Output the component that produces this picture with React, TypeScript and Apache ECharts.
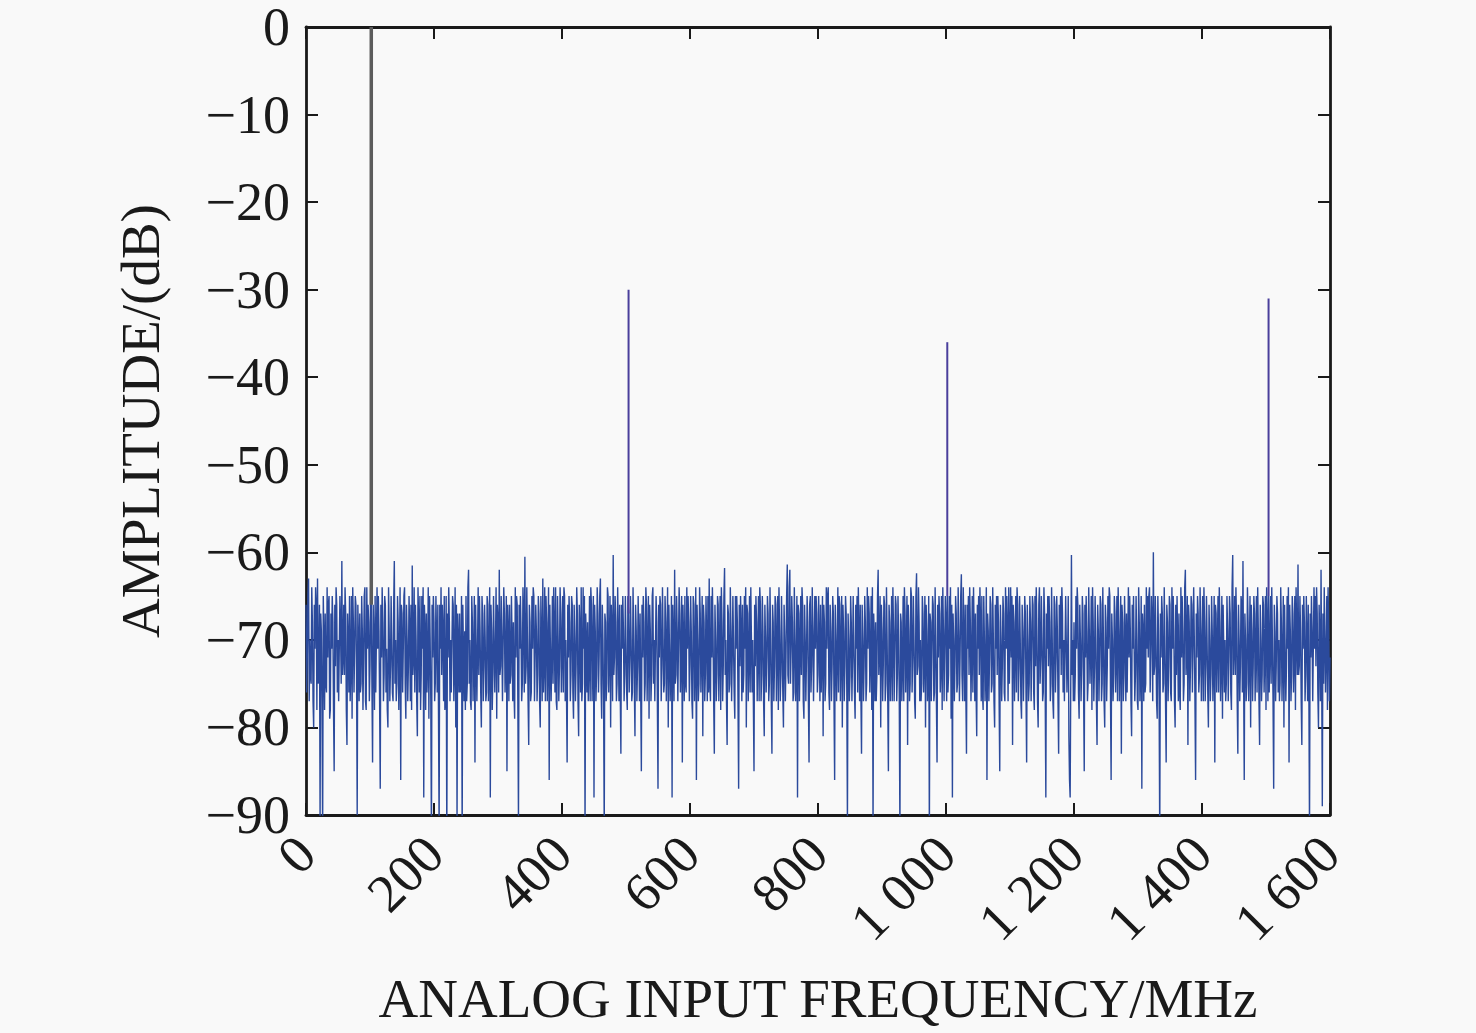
import { useEffect, useRef } from "react";
import * as echarts from "echarts";

// spectrum bins, one every 1 MHz from 0 to 1600 MHz (dB)
const FREQ_STEP = 1;
const noiseDb = [
  -66, -76, -72, -65, -63, -77, -70, -74, -75, -64, -68, -77, -80, -66, -71, -64, -66, -78, -63, -75, -74, -66, -91, -67, -69, -77, -93, -65, -70, -78, -67, -75, -76, -64, -72, -66, -65, -79, -78, -67,
  -71, -65, -68, -78, -85, -66, -73, -64, -66, -76, -70, -77, -77, -65, -69, -75, -61, -74, -72, -66, -74, -64, -67, -78, -82, -67, -70, -76, -65, -77, -73, -65, -79, -64, -68, -76, -71, -65, -66, -74,
  -90, -66, -70, -77, -67, -76, -75, -65, -69, -78, -72, -65, -64, -77, -78, -64, -71, -66, -68, -77, -73, -64, -66, -75, -84, -66, -70, -78, -65, -76, -76, -64, -71, -65, -69, -77, -87, -66, -72, -64,
  -68, -77, -74, -65, -66, -76, -71, -78, -80, -64, -69, -77, -73, -65, -65, -76, -77, -66, -61, -75, -70, -77, -75, -65, -68, -78, -72, -64, -86, -66, -67, -76, -71, -65, -64, -75, -79, -66, -70, -77,
  -73, -65, -69, -77, -66, -78, -61.5, -74, -72, -64, -76, -66, -70, -77, -81, -64, -68, -76, -65, -78, -74, -65, -71, -64, -88, -66, -69, -78, -67, -76, -73, -64, -79, -65, -70, -77, -93, -66, -72, -65,
  -68, -77, -75, -65, -70, -76, -66, -78, -92, -66, -71, -64, -74, -66, -69, -77, -65, -78, -77, -65, -94, -67, -72, -64, -68, -77, -70, -76, -76, -65, -66, -77, -73, -64, -80, -66, -91, -67, -70, -76,
  -67, -76, -74, -65, -93, -66, -71, -77, -69, -78, -65, -77, -75, -64, -62, -75, -70, -77, -78, -65, -68, -77, -72, -65, -84, -66, -66, -77, -71, -64, -74, -65, -69, -76, -80, -65, -67, -77, -73, -66,
  -70, -77, -76, -65, -66, -77, -72, -64, -88, -66, -69, -78, -74, -65, -65, -76, -71, -64, -79, -66, -68, -76, -62, -74, -73, -65, -70, -77, -77, -64, -67, -76, -72, -65, -85, -66, -69, -77, -66, -75,
  -74, -65, -70, -77, -68, -76, -79, -64, -72, -65, -66, -77, -91, -66, -71, -65, -69, -77, -75, -64, -67, -76, -60.5, -75, -73, -64, -70, -77, -82, -66, -68, -77, -76, -65, -71, -64, -65, -77, -72, -66,
  -69, -77, -74, -65, -67, -77, -80, -65, -70, -77, -63, -76, -73, -64, -77, -65, -68, -77, -71, -64, -86, -66, -66, -77, -72, -65, -75, -64, -69, -76, -64, -77, -78, -65, -70, -77, -73, -64, -67, -76,
  -71, -65, -76, -64, -65, -77, -70, -76, -84, -66, -72, -65, -68, -77, -74, -65, -66, -76, -79, -66, -70, -77, -73, -64, -67, -77, -81, -66, -69, -76, -64, -77, -75, -64, -71, -65, -92, -67, -70, -76,
  -68, -77, -73, -65, -77, -64, -66, -77, -71, -65, -88, -66, -69, -77, -74, -64, -67, -76, -72, -65, -63, -75, -79, -66, -70, -77, -92, -67, -68, -77, -75, -64, -65, -76, -71, -65, -80, -66, -69, -77,
  -60.3, -74, -72, -65, -68, -77, -75, -64, -70, -77, -66, -76, -83, -66, -71, -65, -69, -77, -74, -65, -65, -76, -78, -65, -67, -76, -72, -65, -70, -77, -76, -64, -64, -75, -81, -66, -69, -77, -73, -65,
  -70, -77, -67, -76, -85, -66, -72, -65, -68, -77, -75, -64, -66, -77, -71, -65, -79, -66, -69, -77, -74, -65, -64, -75, -70, -77, -77, -65, -68, -77, -87, -66, -72, -65, -66, -77, -73, -64, -70, -76,
  -75, -65, -68, -77, -71, -64, -80, -66, -66, -77, -73, -65, -88, -66, -70, -77, -62, -75, -74, -65, -69, -77, -77, -64, -67, -76, -72, -65, -84, -66, -70, -77, -65, -75, -76, -64, -71, -65, -68, -77,
  -73, -65, -69, -77, -79, -65, -66, -77, -72, -64, -86, -66, -70, -77, -75, -64, -67, -76, -71, -65, -81, -66, -68, -77, -74, -65, -70, -77, -65, -76, -63, -75, -77, -65, -72, -64, -69, -77, -83, -66,
  -70, -77, -74, -65, -66, -77, -71, -65, -78, -64, -68, -77, -73, -65, -61.8, -74, -70, -77, -82, -66, -67, -76, -75, -64, -69, -77, -72, -65, -65, -76, -79, -65, -71, -65, -68, -77, -87, -66, -73, -65,
  -69, -77, -66, -76, -74, -65, -71, -64, -80, -66, -67, -77, -72, -65, -76, -64, -64, -76, -70, -77, -85, -66, -73, -65, -68, -77, -71, -65, -77, -64, -66, -77, -74, -65, -69, -77, -81, -66, -70, -76,
  -72, -65, -67, -77, -75, -64, -70, -77, -83, -66, -68, -77, -73, -65, -66, -77, -71, -65, -78, -64, -69, -77, -74, -65, -65, -76, -80, -66, -70, -77, -72, -65, -61.4, -74, -75, -64, -62, -75, -71, -65,
  -68, -77, -76, -64, -70, -77, -73, -65, -88, -66, -67, -77, -71, -65, -74, -64, -66, -77, -79, -66, -70, -77, -72, -65, -68, -77, -84, -66, -65, -76, -73, -64, -69, -77, -77, -65, -71, -65, -67, -76,
  -74, -65, -70, -77, -66, -76, -72, -65, -81, -66, -68, -77, -75, -64, -71, -65, -64, -76, -78, -66, -69, -77, -73, -65, -67, -77, -86, -66, -70, -77, -72, -64, -76, -65, -66, -77, -71, -65, -80, -66,
  -69, -77, -73, -65, -67, -76, -91, -67, -70, -77, -74, -65, -68, -77, -72, -65, -65, -76, -79, -66, -71, -65, -76, -64, -69, -77, -66, -76, -83, -66, -70, -77, -73, -65, -68, -77, -75, -64, -71, -65,
  -67, -76, -72, -65, -78, -64, -92, -67, -70, -77, -68, -77, -74, -65, -62, -74, -71, -65, -80, -66, -69, -77, -73, -65, -66, -77, -75, -64, -70, -77, -85, -66, -68, -77, -72, -65, -77, -64, -69, -77,
  -71, -65, -66, -77, -74, -65, -70, -77, -92, -67, -68, -77, -73, -65, -77, -64, -67, -76, -71, -65, -82, -66, -69, -77, -75, -64, -65, -76, -72, -65, -70, -77, -79, -65, -62.4, -74, -73, -64, -68, -77,
  -70, -77, -75, -65, -67, -76, -72, -65, -80, -66, -69, -77, -74, -65, -93, -67, -68, -77, -71, -65, -66, -77, -76, -64, -70, -77, -84, -66, -72, -65, -67, -76, -73, -65, -78, -64, -69, -77, -71, -65,
  -68, -77, -65, -76, -74, -65, -71, -64, -79, -66, -88, -67, -70, -77, -73, -65, -67, -76, -75, -64, -69, -77, -72, -65, -62.5, -74, -77, -64, -70, -77, -66, -76, -83, -66, -71, -65, -74, -64, -68, -77,
  -72, -65, -76, -64, -69, -77, -67, -76, -81, -66, -71, -65, -74, -64, -68, -77, -65, -76, -78, -65, -70, -77, -73, -64, -86, -67, -69, -77, -72, -65, -66, -76, -75, -64, -70, -77, -80, -66, -71, -65,
  -74, -65, -68, -77, -85, -66, -70, -77, -73, -65, -67, -76, -77, -64, -71, -65, -69, -77, -64, -75, -75, -64, -72, -65, -82, -66, -68, -77, -71, -65, -76, -64, -66, -77, -73, -65, -70, -77, -79, -66,
  -69, -77, -72, -65, -67, -76, -84, -66, -70, -77, -75, -65, -68, -77, -71, -65, -66, -76, -78, -65, -73, -64, -69, -77, -80, -66, -64, -75, -72, -65, -70, -77, -76, -64, -67, -76, -88, -67, -71, -65,
  -73, -65, -68, -77, -75, -64, -70, -77, -79, -65, -66, -76, -72, -65, -69, -77, -83, -66, -71, -65, -74, -64, -67, -76, -70, -77, -77, -65, -65, -76, -72, -65, -81, -86, -88, -74, -60.3, -74, -70, -77,
  -68, -77, -74, -65, -71, -64, -66, -76, -79, -66, -70, -77, -73, -65, -67, -76, -85, -66, -72, -65, -69, -77, -75, -64, -64, -75, -71, -65, -78, -64, -68, -77, -73, -65, -70, -77, -82, -66, -69, -77,
  -72, -65, -66, -77, -75, -64, -70, -77, -80, -66, -68, -77, -73, -65, -71, -64, -65, -76, -86, -67, -70, -77, -74, -65, -67, -76, -72, -65, -77, -64, -69, -77, -71, -65, -83, -66, -68, -77, -74, -65,
  -70, -77, -67, -76, -76, -64, -72, -65, -69, -77, -81, -66, -71, -65, -65, -77, -74, -65, -70, -77, -78, -64, -68, -77, -73, -65, -87, -67, -69, -77, -66, -76, -75, -64, -71, -65, -72, -65, -64, -76,
  -71, -65, -68, -77, -60, -74, -73, -65, -70, -77, -79, -65, -69, -77, -93, -67, -72, -65, -67, -76, -75, -64, -70, -77, -84, -66, -68, -77, -73, -65, -66, -76, -77, -64, -71, -65, -69, -77, -80, -66,
  -74, -65, -70, -77, -67, -76, -78, -64, -72, -65, -69, -77, -75, -64, -62, -74, -71, -65, -82, -66, -68, -77, -73, -65, -66, -76, -76, -64, -70, -77, -86, -67, -72, -65, -67, -76, -74, -64, -69, -77,
  -71, -65, -77, -64, -68, -77, -73, -65, -65, -76, -80, -66, -70, -77, -74, -65, -69, -77, -72, -65, -84, -66, -67, -76, -71, -65, -76, -64, -68, -77, -73, -65, -79, -66, -66, -76, -70, -77, -75, -65,
  -69, -77, -72, -65, -67, -76, -78, -64, -60.3, -74, -71, -65, -74, -64, -68, -77, -83, -66, -70, -77, -73, -65, -66, -76, -61, -74, -86, -67, -70, -77, -75, -64, -68, -77, -72, -65, -80, -66, -69, -77,
  -73, -65, -67, -77, -71, -65, -76, -64, -69, -77, -82, -66, -70, -77, -74, -65, -66, -76, -72, -65, -78, -64, -68, -77, -65, -76, -71, -65, -75, -64, -70, -77, -87, -66, -69, -77, -73, -65, -67, -76,
  -70, -77, -75, -64, -68, -77, -72, -65, -80, -66, -66, -77, -73, -65, -71, -64, -84, -66, -69, -77, -74, -65, -67, -76, -72, -65, -78, -64, -70, -74, -61.4, -74, -73, -65, -69, -77, -82, -66, -71, -65,
  -68, -77, -74, -65, -70, -77, -66, -76, -92, -67, -72, -65, -69, -77, -77, -64, -71, -65, -73, -64, -67, -76, -80, -66, -70, -77, -62, -74, -89, -67, -75, -64, -64, -76, -71, -65, -78, -64, -69, -77,
  -72,
];

// the tone and its spurs
const spikeFreq = [102, 504, 1002, 1504];
const spikePeak = [0, -30, -36, -31];
const spikeColor = ["#5c5c5c", "#4a3f9c", "#4a3f9c", "#4a3f9c"];
const spikeWidth = [3.5, 2, 2, 2];

const xTicks = { min: 0, max: 1600, step: 200 };
const yTicks = { min: -90, max: 0, step: 10 };

const FONT = "'Liberation Serif', 'Times New Roman', serif";
const INK = "#1a1a1a";

function freqLabel(v: number) {
  if (v < 1000) return String(v);
  return `${Math.floor(v / 1000)} ${String(v % 1000).padStart(3, "0")}`;
}

function dbLabel(v: number) {
  return v < 0 ? "\u2212" + Math.abs(v) : String(v);
}

export default function App() {
  const ref = useRef<HTMLDivElement>(null);

  useEffect(() => {
    if (!ref.current) return;
    const chart = echarts.init(ref.current, undefined, { renderer: "svg" });

    const frame = { show: true, onZero: false, lineStyle: { color: INK, width: 2.8 } };
    const ticks = { show: true, inside: true, length: 12, lineStyle: { color: INK, width: 2 } };

    const spikeSeries = spikeFreq.map((f, i) => ({
      type: "line" as const,
      data: [
        [f, noiseDb[f / FREQ_STEP]],
        [f, spikePeak[i]],
      ],
      showSymbol: false,
      lineStyle: { color: spikeColor[i], width: spikeWidth[i] },
      z: 3,
    }));

    chart.setOption({
      animation: false,
      backgroundColor: "#f9f9f9",
      grid: { left: 306, top: 27, width: 1024, height: 788, show: false },
      xAxis: [
        {
          type: "value",
          min: xTicks.min,
          max: xTicks.max,
          interval: xTicks.step,
          position: "bottom",
          axisLine: frame,
          axisTick: ticks,
          splitLine: { show: false },
          axisLabel: {
            rotate: 45,
            margin: 30,
            fontSize: 54,
            fontFamily: FONT,
            color: INK,
            formatter: freqLabel,
          },
          name: "ANALOG INPUT FREQUENCY/MHz",
          nameLocation: "middle",
          nameGap: 156,
          nameTextStyle: { fontSize: 55, fontFamily: FONT, color: INK },
        },
        {
          type: "value",
          min: xTicks.min,
          max: xTicks.max,
          interval: xTicks.step,
          position: "top",
          axisLine: frame,
          axisTick: ticks,
          axisLabel: { show: false },
          splitLine: { show: false },
        },
      ],
      yAxis: [
        {
          type: "value",
          min: yTicks.min,
          max: yTicks.max,
          interval: yTicks.step,
          position: "left",
          axisLine: frame,
          axisTick: ticks,
          splitLine: { show: false },
          axisLabel: {
            margin: 16,
            fontSize: 54,
            fontFamily: FONT,
            color: INK,
            formatter: dbLabel,
          },
          name: "AMPLITUDE/(dB)",
          nameLocation: "middle",
          nameGap: 138,
          nameTextStyle: { fontSize: 55, fontFamily: FONT, color: INK },
        },
        {
          type: "value",
          min: yTicks.min,
          max: yTicks.max,
          interval: yTicks.step,
          position: "right",
          axisLine: frame,
          axisTick: ticks,
          axisLabel: { show: false },
          splitLine: { show: false },
        },
      ],
      series: [
        {
          type: "line",
          data: noiseDb.map((v, i) => [i * FREQ_STEP, v]),
          showSymbol: false,
          clip: true,
          lineStyle: { color: "#2b4a9c", width: 1.4 },
          z: 2,
        },
        ...spikeSeries,
      ],
    });

    return () => chart.dispose();
  }, []);

  return (
    <div
      ref={ref}
      style={{ position: "fixed", left: 0, top: 0, width: 1476, height: 1033 }}
    />
  );
}
